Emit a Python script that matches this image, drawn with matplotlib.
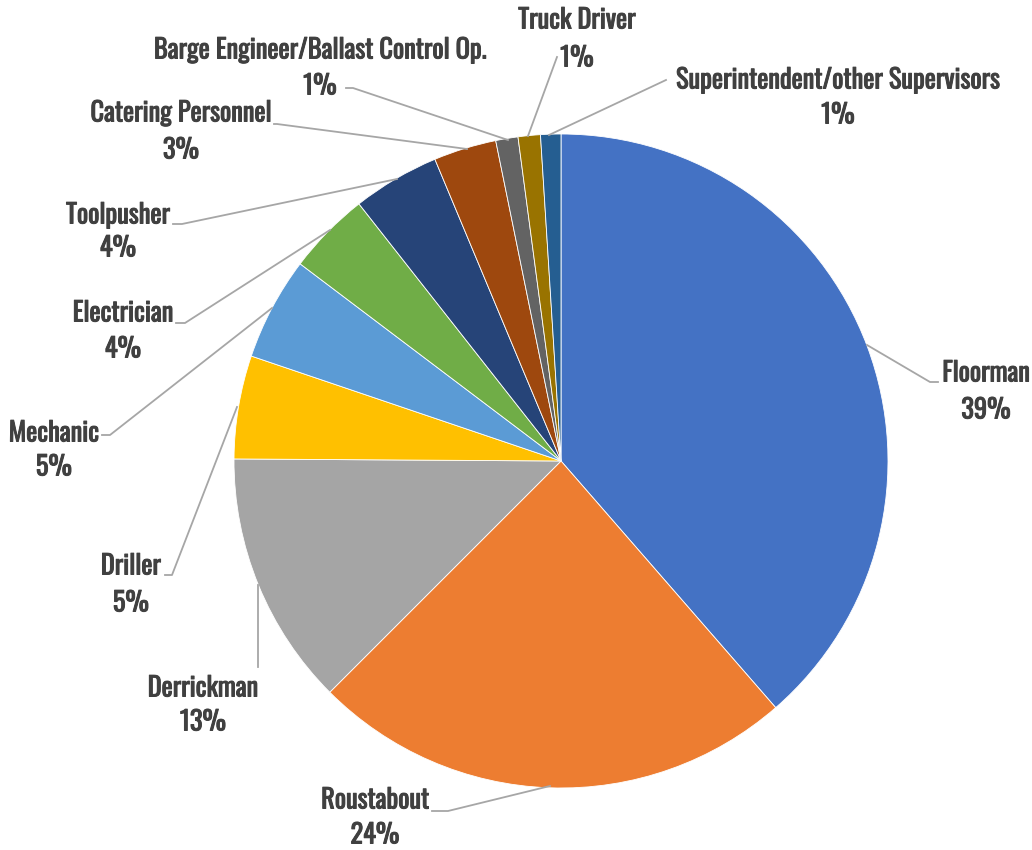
import matplotlib.pyplot as plt
import matplotlib.patheffects as pe
from matplotlib import font_manager

# slice data, clockwise from 12 o'clock
roles = ["Floorman", "Roustabout", "Derrickman", "Driller", "Mechanic", "Electrician",
         "Toolpusher", "Catering Personnel", "Barge Engineer/Ballast Control Op.",
         "Truck Driver", "Superintendent/other Supervisors"]
shares = [38.6, 23.9, 12.6, 5.1, 5.1, 4.1, 4.3, 3.1, 1.1, 1.1, 1.0]
colors = ["#4472C4", "#ED7D31", "#A5A5A5", "#FFC000", "#5B9BD5", "#70AD47",
          "#264478", "#9E480E", "#636363", "#997300", "#255E91"]

# label layout in pixel coords (top-left origin): text x, name y, pct y
label_xy = [(986, 373, 410), (375, 800, 835), (203, 688, 722), (131, 566, 603),
            (54, 433, 467), (123, 313, 349), (118, 215, 248), (181, 113, 150),
            (320, 50, 86), (577, 20, 58), (838, 80, 115)]
# leader polylines in pixel coords
leaders = [[(867, 345), (930, 382), (938, 382)],
           [(550, 786), (448, 811), (432, 811)],
           [(258, 585), (258, 667)],
           [(237, 407), (172, 575), (165, 575)],
           [(272, 308), (110, 435), (102, 435)],
           [(330, 230), (185, 323), (176, 323)],
           [(397, 179), (182, 224), (173, 224)],
           [(467, 149), (277, 124), (274, 124)],
           [(508, 140), (353, 88), (346, 88)],
           [(528, 136), (557, 57)],
           [(549, 135), (666, 80)]]

TEXT = "#404040"
installed = {f.name for f in font_manager.fontManager.ttflist}
if "Oswald" in installed:
    # only the regular weight is there, so thicken it with a stroke
    font_kw = dict(family=["Oswald", "DejaVu Sans"], fontsize=19,
                   path_effects=[pe.withStroke(linewidth=0.7, foreground=TEXT)])
elif "Barlow Condensed" in installed:
    font_kw = dict(family=["Barlow Condensed", "DejaVu Sans"], fontsize=21, fontweight="bold")
else:
    font_kw = dict(family="DejaVu Sans", stretch="condensed", fontsize=15, fontweight="bold")

W, H = 1032, 850
fig = plt.figure(figsize=(W / 100, H / 100), dpi=100)
ax = fig.add_axes([0, 0, 1, 1])
ax.pie(shares, colors=colors, startangle=90, counterclock=False, center=(561, H - 461), radius=327,
       wedgeprops=dict(edgecolor="white", linewidth=0.6), frame=True)
ax.set_xlim(0, W)
ax.set_ylim(0, H)
ax.axis("off")

for role, share, (x, y1, y2), pts in zip(roles, shares, label_xy, leaders):
    ax.plot([p[0] for p in pts], [H - p[1] for p in pts], color="#A6A6A6", linewidth=1.3, zorder=1)
    ax.text(x, H - y1, role, ha="center", va="center", color=TEXT, **font_kw)
    ax.text(x, H - y2, f"{int(share + 0.5)}%", ha="center", va="center", color=TEXT, **font_kw)

fig.savefig("out.png", dpi=100)
